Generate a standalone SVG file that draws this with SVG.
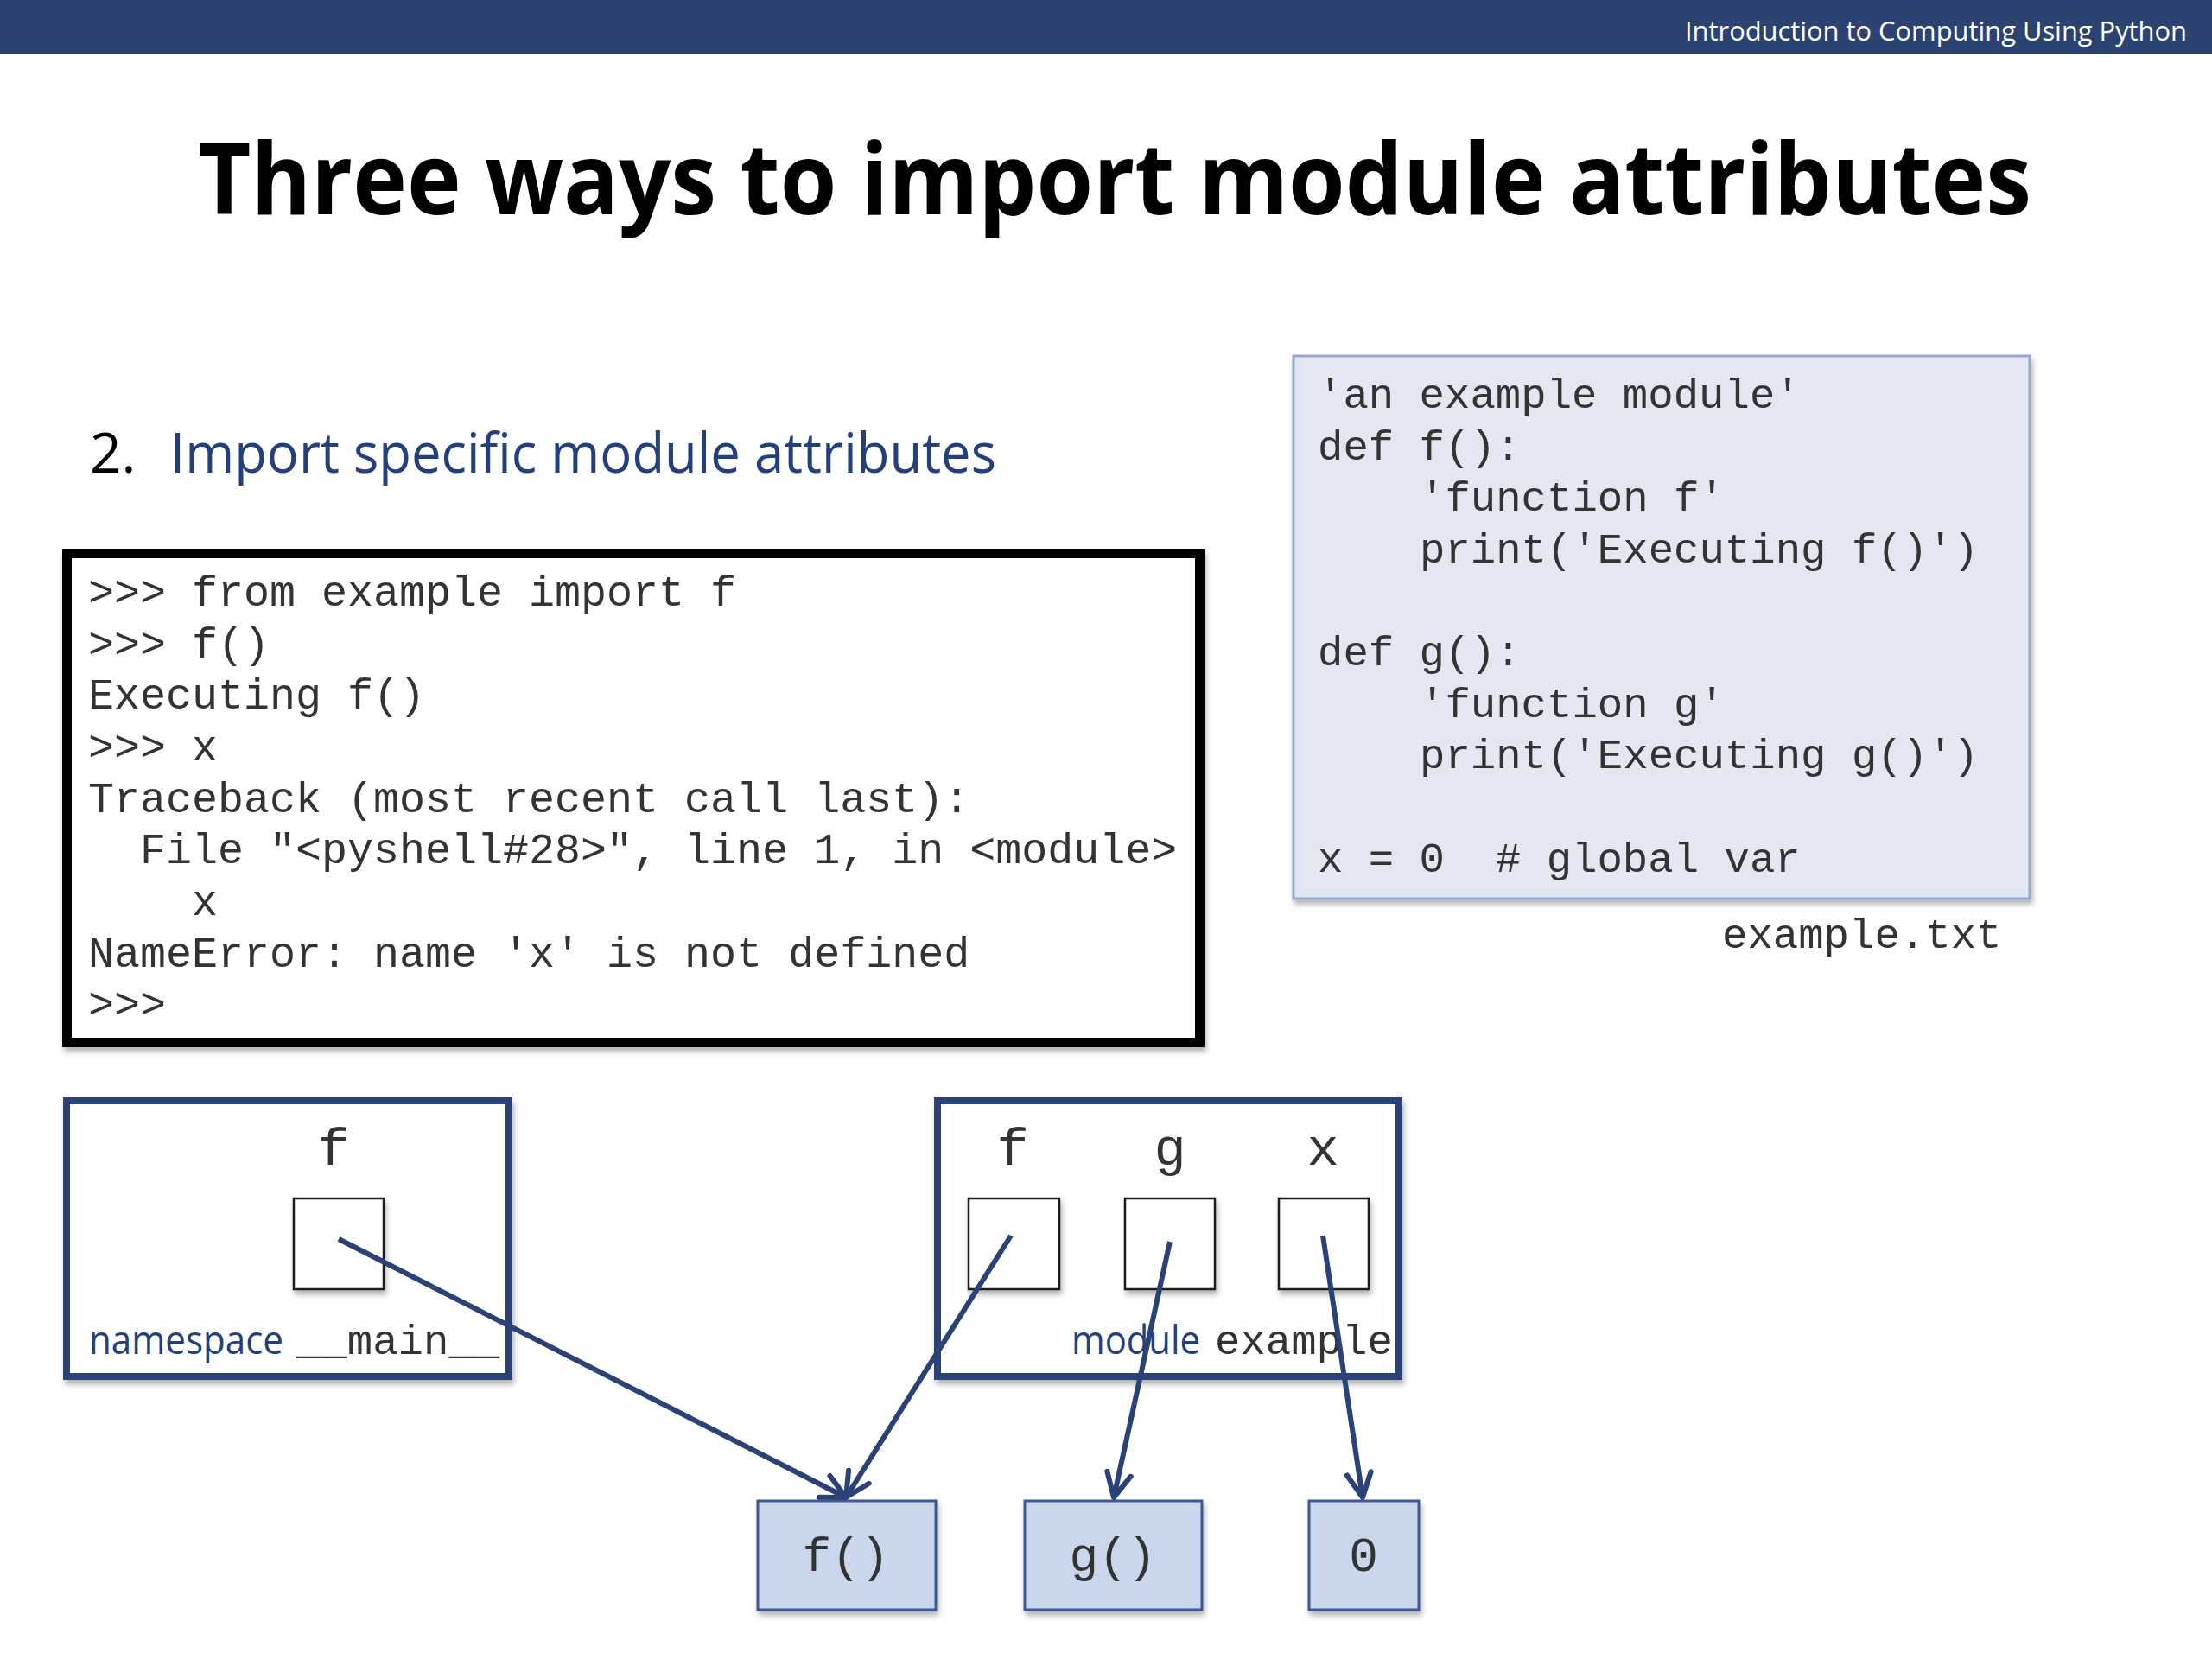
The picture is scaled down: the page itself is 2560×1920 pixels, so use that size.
<svg xmlns="http://www.w3.org/2000/svg" width="2560" height="1920" viewBox="0 0 2560 1920">
<defs>
<style>
.mono{font-family:"Liberation Mono","Courier New",monospace;fill:#333}
.sans{font-family:"Open Sans","Noto Sans","Liberation Sans",sans-serif}
.blue{fill:#233f7c}
.nsbox{fill:#fff;stroke:#2a4275;stroke-width:8}
.slot{fill:#fff;stroke:#1a1a1a;stroke-width:2.5}
.val{fill:#cad6ec;stroke:#3d5896;stroke-width:3}
.conn{stroke:#2a4275;stroke-width:6;fill:none;marker-end:url(#arr)}
</style>
<filter id="sh" x="-10%" y="-10%" width="130%" height="130%">
<feDropShadow dx="2" dy="5" stdDeviation="3" flood-color="#000" flood-opacity="0.3"/>
</filter>
<marker id="arr" viewBox="0 0 34 34" refX="31" refY="17" markerWidth="34" markerHeight="34" markerUnits="userSpaceOnUse" orient="auto">
<path d="M3,3 L31,17 L3,31" fill="none" stroke="#2a4275" stroke-width="6" stroke-linecap="round" stroke-linejoin="round"/>
</marker>
</defs>
<rect width="2560" height="1920" fill="#fff"/>

<g id="header">
<rect x="0" y="0" width="2560" height="63" fill="#2c4271"/>
<text class="sans" x="1950" y="47" font-size="31" fill="#fff" textLength="581" lengthAdjust="spacingAndGlyphs">Introduction to Computing Using Python</text>
</g>

<g id="title">
<text class="sans" x="229" y="248" font-size="114" font-weight="700" fill="#000" textLength="2122" lengthAdjust="spacingAndGlyphs">Three ways to import module attributes</text>
</g>

<g id="subtitle">
<text class="sans" x="104" y="547" font-size="64" fill="#000">2.</text>
<text class="sans blue" x="197" y="547" font-size="64" textLength="956" lengthAdjust="spacingAndGlyphs">Import specific module attributes</text>
</g>

<g id="shell">
<rect x="77.5" y="640.5" width="1311" height="566" fill="#fff" stroke="#000" stroke-width="11" filter="url(#sh)"/>
<g class="mono" font-size="50">
<text x="102" y="701">&gt;&gt;&gt; from example import f</text>
<text x="102" y="761">&gt;&gt;&gt; f()</text>
<text x="102" y="820">Executing f()</text>
<text x="102" y="880">&gt;&gt;&gt; x</text>
<text x="102" y="940">Traceback (most recent call last):</text>
<text x="162" y="999">File "&lt;pyshell#28&gt;", line 1, in &lt;module&gt;</text>
<text x="222" y="1059">x</text>
<text x="102" y="1119">NameError: name 'x' is not defined</text>
<text x="102" y="1178">&gt;&gt;&gt;</text>
</g>
</g>

<g id="example-file">
<rect x="1497" y="412" width="852" height="628" fill="#e2e7f1" stroke="#93a7cf" stroke-width="3" filter="url(#sh)"/>
<g class="mono" font-size="49">
<text x="1525" y="472">'an example module'</text>
<text x="1525" y="532">def f():</text>
<text x="1643" y="591">'function f'</text>
<text x="1643" y="651">print('Executing f()')</text>
<text x="1525" y="770">def g():</text>
<text x="1643" y="830">'function g'</text>
<text x="1643" y="889">print('Executing g()')</text>
<text x="1525" y="1009" xml:space="preserve">x = 0  # global var</text>
</g>
<text class="mono" x="1993" y="1097" font-size="49">example.txt</text>
</g>

<g id="ns-main">
<rect class="nsbox" x="77" y="1274" width="512" height="319" filter="url(#sh)"/>
<text class="mono" x="386" y="1348" font-size="62" text-anchor="middle">f</text>
<rect class="slot" x="340" y="1387" width="104" height="105" filter="url(#sh)"/>
<text class="sans blue" x="103" y="1567" font-size="46" textLength="225" lengthAdjust="spacingAndGlyphs">namespace</text>
<text class="mono" x="343" y="1567" font-size="49">__main__</text>
</g>

<g id="ns-example">
<rect class="nsbox" x="1085" y="1274" width="534" height="319" filter="url(#sh)"/>
<text class="mono" x="1172" y="1348" font-size="62" text-anchor="middle">f</text>
<text class="mono" x="1354" y="1348" font-size="62" text-anchor="middle">g</text>
<text class="mono" x="1531" y="1348" font-size="62" text-anchor="middle">x</text>
<rect class="slot" x="1121" y="1387" width="105" height="105" filter="url(#sh)"/>
<rect class="slot" x="1302" y="1387" width="104" height="105" filter="url(#sh)"/>
<rect class="slot" x="1480" y="1387" width="104" height="105" filter="url(#sh)"/>
<text class="sans blue" x="1240" y="1567" font-size="46" textLength="149" lengthAdjust="spacingAndGlyphs">module</text>
<text class="mono" x="1406" y="1567" font-size="49">example</text>
</g>

<g id="val-f">
<rect class="val" x="877" y="1737" width="206" height="126" filter="url(#sh)"/>
<text class="mono" x="979" y="1818" font-size="56" text-anchor="middle">f()</text>
</g>
<g id="val-g">
<rect class="val" x="1186" y="1737" width="205" height="126" filter="url(#sh)"/>
<text class="mono" x="1288" y="1818" font-size="56" text-anchor="middle">g()</text>
</g>
<g id="val-0">
<rect class="val" x="1515" y="1737" width="127" height="126" filter="url(#sh)"/>
<text class="mono" x="1578" y="1818" font-size="56" text-anchor="middle">0</text>
</g>

<g id="connectors">
<line class="conn" x1="392" y1="1434" x2="979" y2="1733"/>
<line class="conn" x1="1170" y1="1430" x2="979" y2="1733"/>
<line class="conn" x1="1354" y1="1437" x2="1289" y2="1733"/>
<line class="conn" x1="1531" y1="1430" x2="1577" y2="1733"/>
</g>
</svg>
